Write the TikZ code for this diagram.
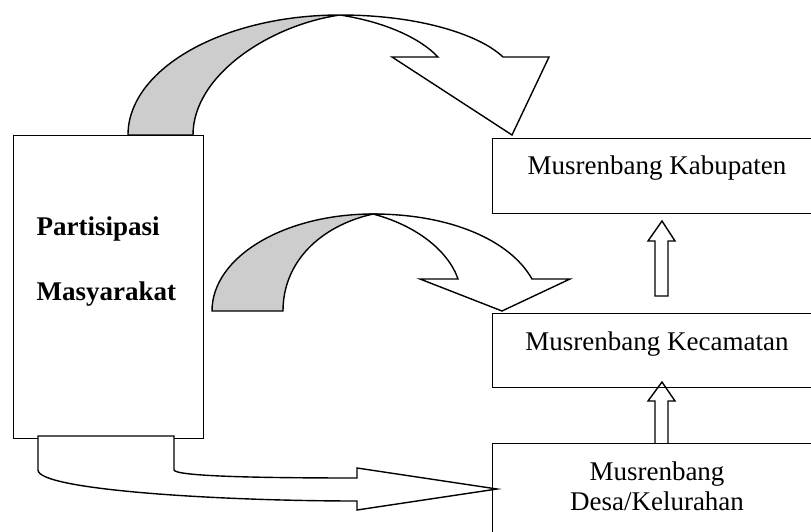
\documentclass[tikz,border=0pt]{standalone}
\usepackage{fontspec}
\setmainfont{Liberation Serif}
\definecolor{backgray}{RGB}{205,205,205}
\begin{document}
\begin{tikzpicture}[x=1pt,y=-1pt, line width=1.4pt, line join=miter,
  box/.style={draw, line width=1.4pt, inner sep=0pt, anchor=north west},
  lbl/.style={font=\fontsize{27}{32}\selectfont, inner sep=0pt, anchor=base},
  blk/.style={draw, fill=white, line width=1.4pt},
  shade/.style={draw, fill=backgray, line width=1.4pt},
  uparrow/.style={draw, line width=1.4pt}]
\useasboundingbox (0,0) rectangle (811,532);
\clip (0,0) rectangle (811,532);
% boxes
\node[box, minimum width=190pt, minimum height=303pt] (pm) at (13,135) {};
\node[box, minimum width=330pt, minimum height=75pt] (kab) at (492,138) {};
\node[box, minimum width=330pt, minimum height=74pt] (kec) at (492,313) {};
\node[box, minimum width=330pt, minimum height=100pt] (desa) at (492,443) {};
% texts
\node[lbl, anchor=base west, font=\fontsize{27}{32}\selectfont\bfseries] (p1) at (36,235) {Partisipasi};
\node[lbl, anchor=base west, font=\fontsize{27}{32}\selectfont\bfseries] (p2) at (36,300) {Masyarakat};
\node[lbl] (t1) at (657,175) {Musrenbang Kabupaten};
\node[lbl] (t2) at (657,350) {Musrenbang Kecamatan};
\node[lbl] (t3) at (657,480) {Musrenbang};
\node[lbl] (t4) at (657,510) {Desa/Kelurahan};
% top curved arrow
\draw[shade] (128,135) .. controls (128,69) and (223,15) .. (340,15)
  .. controls (270,25) and (193,75) .. (193,135) -- cycle;
\draw[blk] (340,15) .. controls (420,15) and (480,35) .. (503,57) -- (549,57) -- (512,135)
  -- (392,57) -- (438,57) .. controls (420,38) and (385,22) .. (340,15) -- cycle;
% middle curved arrow
\draw[shade] (212,311) .. controls (212,257) and (284,214) .. (373,214)
  .. controls (320,226) and (283,262) .. (283,311) -- cycle;
\draw[blk] (373,214) .. controls (450,214) and (510,240) .. (532,279) -- (570,279) -- (502,311)
  -- (420,279) -- (458,279) .. controls (448,250) and (415,225) .. (373,214) -- cycle;
% bottom arrow
\draw[blk] (38,436) -- (38,470) .. controls (38,490) and (220,501) .. (357,501) -- (357,510)
  -- (497,489) -- (357,468) -- (357,478) .. controls (250,478) and (176,476) .. (174,470)
  -- (174,436) -- cycle;
% up arrows
\draw[uparrow] (655,296) -- (655,241) -- (648,241) -- (662,221) -- (675,241) -- (668,241) -- (668,296) -- cycle;
\draw[uparrow] (655,443) -- (655,401) -- (648,401) -- (662,382) -- (675,401) -- (668,401) -- (668,443);
\end{tikzpicture}
\end{document}
